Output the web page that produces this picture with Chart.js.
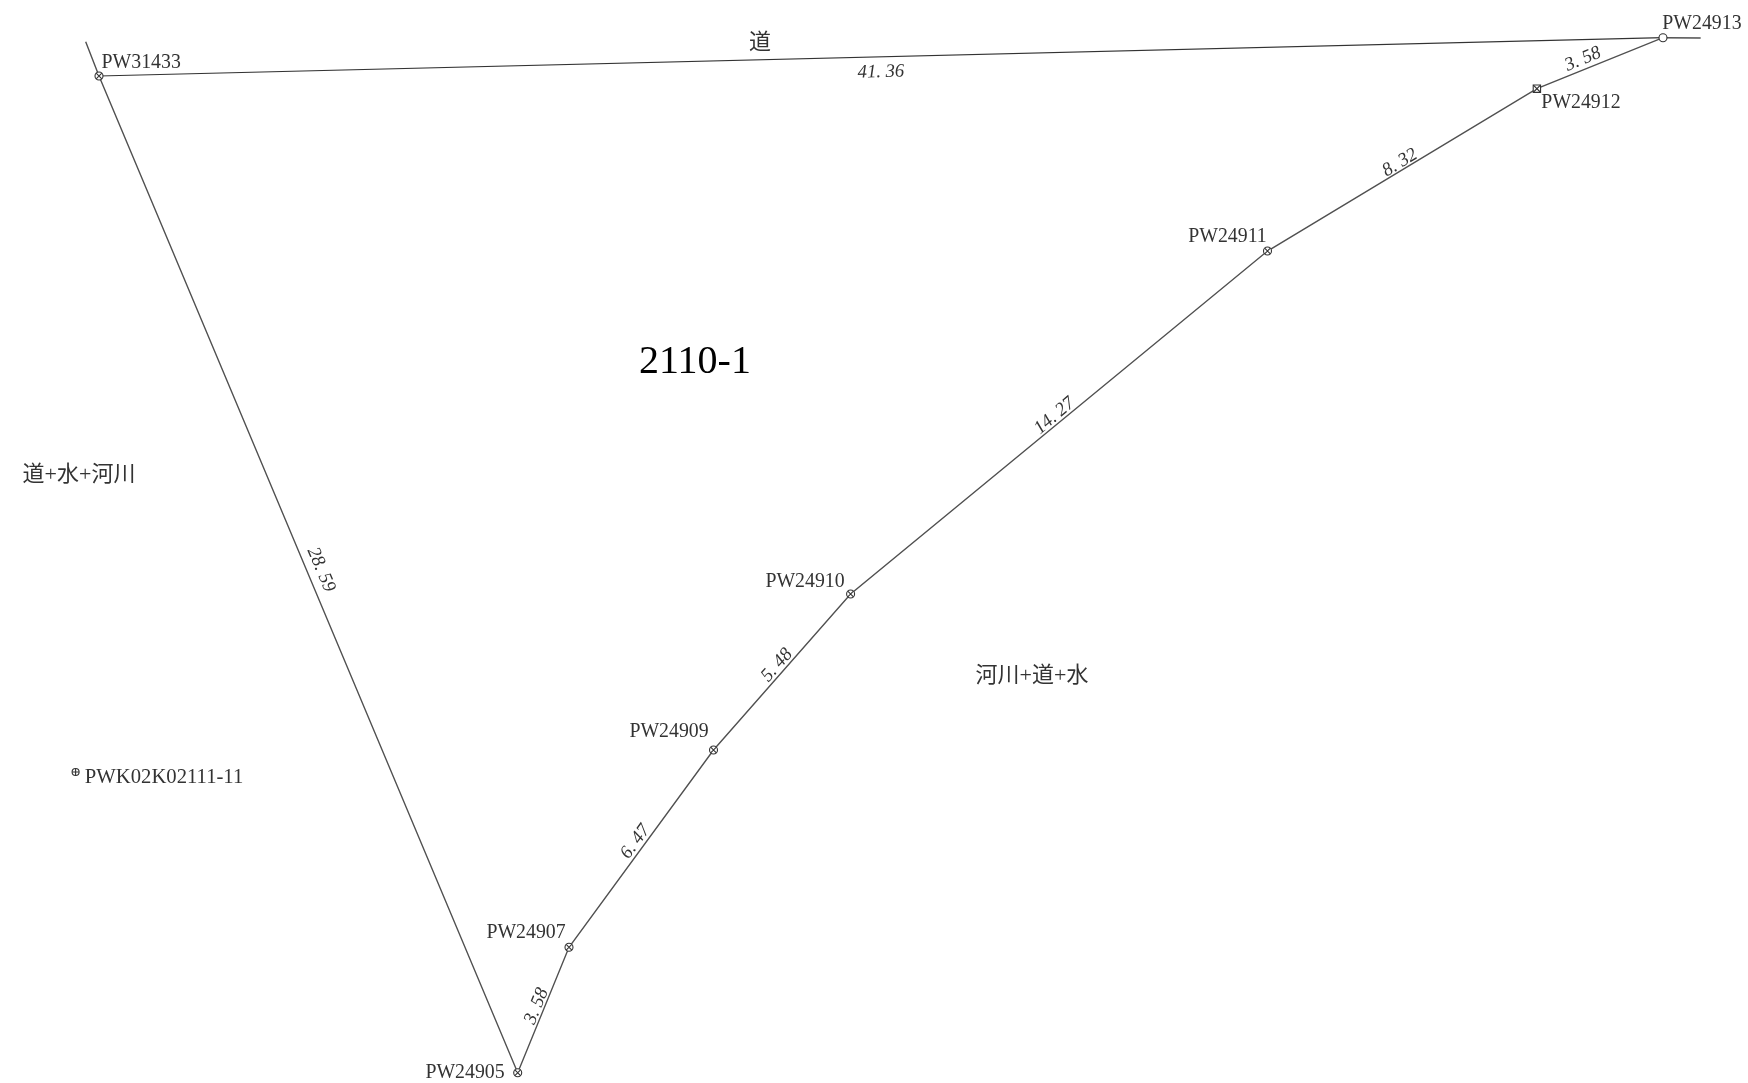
<!DOCTYPE html>
<html>
<head>
<meta charset="utf-8">
<style>html,body{margin:0;padding:0;background:#fff}canvas{display:block}</style>
<script src="https://cdn.jsdelivr.net/npm/chart.js@4"></script>
</head>
<body>
<canvas id="c" width="1748" height="1083"></canvas>
<script>
// Survey coordinates in metres, relative to PW31433 (east, north)
const boundaryX = [-0.352, 0, 11.077, 12.434, 16.257, 19.884, 30.913, 38.04, 41.376, 42.373];
const boundaryY = [0.907, 0, -26.368, -23.05, -17.831, -13.704, -4.63, -0.336, 1.013, 1.005];
const roadX = [0, 41.376];
const roadY = [0, 1.013];

const crossedX = [0, 11.077, 12.434, 16.257, 19.884, 30.913];
const crossedY = [0, -26.368, -23.05, -17.831, -13.704, -4.63];
const squareX = [38.04];
const squareY = [-0.336];
const openX = [41.376];
const openY = [1.013];
const refX = [-0.619];
const refY = [-18.413];

const stationNames = ['PW31433','PW24913','PW24912','PW24911','PW24910','PW24909','PW24907','PW24905','PWK02K02111-11'];
const stationNameX = [1.116, 42.407, 39.206, 29.854, 18.677, 15.079, 11.296, 9.683, 1.72];
const stationNameY = [0.405, 1.437, -0.661, -4.206, -13.333, -17.302, -22.619, -26.323, -18.51];

const lengthLabels = ['41. 36','3. 58','8. 32','14. 27','5. 48','6. 47','3. 58','28. 59'];
const lengthX = [20.688, 39.259, 34.418, 25.28, 17.937, 14.193, 11.579, 5.873];
const lengthY = [0.132, 0.476, -2.265, -8.96, -15.556, -20.228, -24.577, -13.029];
const lengthAngle = [-1.5, -23, -31, -40, -48.7, -53.7, -67.8, 67];

const areaLabels = ['道','道+水+河川','河川+道+水'];
const areaX = [17.487, -0.529, 24.683];
const areaY = [0.899, -10.529, -15.833];

const parcelLabel = ['2110-1'];
const parcelX = [15.767];
const parcelY = [-7.513];

const pts = (xs, ys) => xs.map((x, i) => ({x, y: ys[i]}));
const INK = '#333';
const SERIF = '"Liberation Serif","Noto Sans CJK JP",serif';

const marker = (xs, ys, style, radius, fill, border) => ({
  data: pts(xs, ys), showLine: false, pointStyle: style, pointRadius: radius,
  pointBackgroundColor: fill, pointBorderColor: border, pointBorderWidth: 1.1
});

const textPlugin = {
  id: 'surveyText',
  afterDatasetsDraw(chart) {
    const {ctx, scales: {x, y}} = chart;
    const put = (s, mx, my, font, color, angle, squeeze, drop) => {
      ctx.save();
      ctx.translate(x.getPixelForValue(mx), y.getPixelForValue(my) + drop);
      ctx.rotate((angle || 0) * Math.PI / 180);
      ctx.scale(squeeze || 1, 1);
      ctx.font = font;
      ctx.fillStyle = color;
      ctx.textAlign = 'center';
      ctx.textBaseline = 'middle';
      ctx.fillText(s, 0, 0);
      ctx.restore();
    };
    stationNames.forEach((s, i) => put(s, stationNameX[i], stationNameY[i], '22px ' + SERIF, INK, 0, s.length > 8 ? 0.94 : 0.9, 1.5));
    lengthLabels.forEach((s, i) => put(s, lengthX[i], lengthY[i], 'italic 19px ' + SERIF, INK, lengthAngle[i], 0.98, 1.2));
    areaLabels.forEach((s, i) => put(s, areaX[i], areaY[i], '22px ' + SERIF, INK, 0, 1, 1.5));
    parcelLabel.forEach((s, i) => put(s, parcelX[i], parcelY[i], '40px ' + SERIF, '#000', 0, 1.0, 2.5));
  }
};

new Chart(document.getElementById('c'), {
  type: 'scatter',
  data: {
    datasets: [
      marker(refX, refY, 'cross', 3.5, '#fff', '#333'),
      marker(refX, refY, 'circle', 3.5, '#fff', '#333'),
      marker(openX, openY, 'circle', 4, '#fff', '#333'),
      marker(squareX, squareY, 'crossRot', 5, '#fff', '#333'),
      marker(squareX, squareY, 'rect', 5.2, '#fff', '#333'),
      marker(crossedX, crossedY, 'crossRot', 4, '#fff', '#333'),
      marker(crossedX, crossedY, 'circle', 4, '#fff', '#333'),
      {data: pts(roadX, roadY), showLine: true, borderColor: '#333', borderWidth: 1.2, pointRadius: 0, tension: 0},
      {data: pts(boundaryX, boundaryY), showLine: true, borderColor: '#505050', borderWidth: 1.4, pointRadius: 0, tension: 0}
    ]
  },
  options: {
    responsive: false,
    animation: false,
    layout: {padding: 0, autoPadding: false},
    plugins: {legend: {display: false}, tooltip: {enabled: false}, title: {display: false}},
    scales: {
      x: {type: 'linear', min: -2.619, max: 43.625, display: false},
      y: {type: 'linear', min: -26.64, max: 2.011, display: false}
    }
  },
  plugins: [textPlugin]
});
</script>
</body>
</html>
